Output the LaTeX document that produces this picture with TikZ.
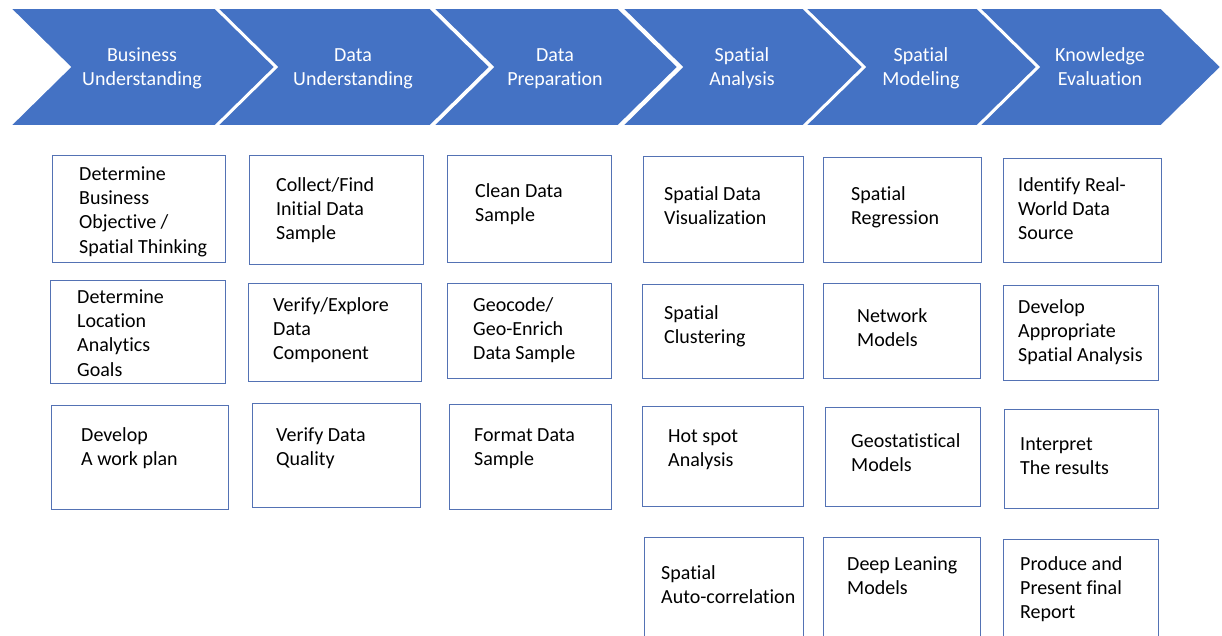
\documentclass[tikz,border=0pt]{standalone}
\usepackage{fontspec}
\setmainfont{Carlito}[Ligatures={NoCommon}]
\definecolor{chev}{RGB}{68,114,196}
\definecolor{boxline}{RGB}{84,114,180}
\begin{document}
\begin{tikzpicture}[x=1pt,y=-1pt,
  chevron/.style={fill=chev,draw=white,line width=1.6pt,line join=miter},
  stepbox/.style={draw=boxline,line width=1.3pt,inner sep=0pt,anchor=north west},
  lbl/.style={anchor=north,align=center,text=white,inner sep=0pt,font=\fontsize{20}{24}\selectfont},
  txt/.style={anchor=north west,align=left,inner sep=0pt,text=black,font=\fontsize{20}{24.3}\selectfont}]
\useasboundingbox (0,0) rectangle (1222,636);
\clip (0,0) rectangle (1222,636);
\fill[white] (0,0) rectangle (1222,636);

% chevrons
\draw[chevron] (10,8) -- (215,8) -- (275,67) -- (215,126) -- (10,126) -- (70,67) -- cycle;
\draw[chevron] (217,8) -- (430,8) -- (490,67) -- (430,126) -- (217,126) -- (277,67) -- cycle;
\draw[chevron] (433,8) -- (618,8) -- (678,67) -- (618,126) -- (433,126) -- (493,67) -- cycle;
\draw[chevron] (622,8) -- (803,8) -- (863,67) -- (803,126) -- (622,126) -- (682,67) -- cycle;
\draw[chevron] (805,8) -- (977,8) -- (1037,67) -- (977,126) -- (805,126) -- (865,67) -- cycle;
\draw[chevron] (979,8) -- (1161,8) -- (1221,67) -- (1161,126) -- (979,126) -- (1039,67) -- cycle;

\node[lbl] (h1) at (142,45) {\strut Business\\Understanding};
\node[lbl] (h2) at (353,45) {\strut Data\\Understanding};
\node[lbl] (h3) at (555,45) {\strut Data\\Preparation};
\node[lbl] (h4) at (742,45) {\strut Spatial\\Analysis};
\node[lbl] (h5) at (921,45) {\strut Spatial\\Modeling};
\node[lbl] (h6) at (1100,45) {\strut Knowledge\\Evaluation};

% column 1
\node[stepbox,minimum width=173pt,minimum height=107pt] (b11) at (52,155) {};
\node[txt] (t11) at (79,163) {\strut Determine\\Business\\Objective /\\Spatial Thinking};
\node[stepbox,minimum width=175pt,minimum height=103pt] (b12) at (50,280) {};
\node[txt] (t12) at (77,286) {\strut Determine\\Location\\Analytics\\Goals};
\node[stepbox,minimum width=177pt,minimum height=104pt] (b13) at (51,405) {};
\node[txt] (t13) at (81,424) {\strut Develop\\A work plan};

% column 2
\node[stepbox,minimum width=174pt,minimum height=109pt] (b21) at (249,155) {};
\node[txt] (t21) at (276,174) {\strut Collect/Find\\Initial Data\\Sample};
\node[stepbox,minimum width=173pt,minimum height=98pt] (b22) at (248,283) {};
\node[txt] (t22) at (273,294) {\strut Verify/Explore\\Data\\Component};
\node[stepbox,minimum width=168pt,minimum height=104pt] (b23) at (252,403) {};
\node[txt] (t23) at (276,424) {\strut Verify Data\\Quality};

% column 3
\node[stepbox,minimum width=164pt,minimum height=107pt] (b31) at (447,155) {};
\node[txt] (t31) at (475,180) {\strut Clean Data\\Sample};
\node[stepbox,minimum width=164pt,minimum height=95pt] (b32) at (447,283) {};
\node[txt] (t32) at (473,294) {\strut Geocode/\\Geo-Enrich\\Data Sample};
\node[stepbox,minimum width=162pt,minimum height=105pt] (b33) at (449,404) {};
\node[txt] (t33) at (474,424) {\strut Format Data\\Sample};

% column 4
\node[stepbox,minimum width=160pt,minimum height=106pt] (b41) at (643,156) {};
\node[txt] (t41) at (664,183) {\strut Spatial Data\\Visualization};
\node[stepbox,minimum width=161pt,minimum height=94pt] (b42) at (642,284) {};
\node[txt] (t42) at (664,302) {\strut Spatial\\Clustering};
\node[stepbox,minimum width=161pt,minimum height=100pt] (b43) at (642,406) {};
\node[txt] (t43) at (668,425) {\strut Hot spot\\Analysis};
\node[stepbox,minimum width=159pt,minimum height=130pt] (b44) at (644,537) {};
\node[txt] (t44) at (661,562) {\strut Spatial\\Auto-correlation};

% column 5
\node[stepbox,minimum width=158pt,minimum height=105pt] (b51) at (823,157) {};
\node[txt] (t51) at (851,183) {\strut Spatial\\Regression};
\node[stepbox,minimum width=157pt,minimum height=95pt] (b52) at (823,283) {};
\node[txt] (t52) at (857,305) {\strut Network\\Models};
\node[stepbox,minimum width=155pt,minimum height=99pt] (b53) at (825,407) {};
\node[txt] (t53) at (851,430) {\strut Geostatistical\\Models};
\node[stepbox,minimum width=157pt,minimum height=130pt] (b54) at (823,537) {};
\node[txt] (t54) at (847,553) {\strut Deep Leaning\\Models};

% column 6
\node[stepbox,minimum width=158pt,minimum height=104pt] (b61) at (1003,158) {};
\node[txt] (t61) at (1018,174) {\strut Identify Real-\\World Data\\Source};
\node[stepbox,minimum width=155pt,minimum height=95pt] (b62) at (1003,285) {};
\node[txt] (t62) at (1018,296) {\strut Develop\\Appropriate\\Spatial Analysis};
\node[stepbox,minimum width=154pt,minimum height=99pt] (b63) at (1004,409) {};
\node[txt] (t63) at (1020,433) {\strut Interpret\\The results};
\node[stepbox,minimum width=155pt,minimum height=130pt] (b64) at (1003,539) {};
\node[txt] (t64) at (1020,553) {\strut Produce and\\Present final\\Report};
\end{tikzpicture}
\end{document}
